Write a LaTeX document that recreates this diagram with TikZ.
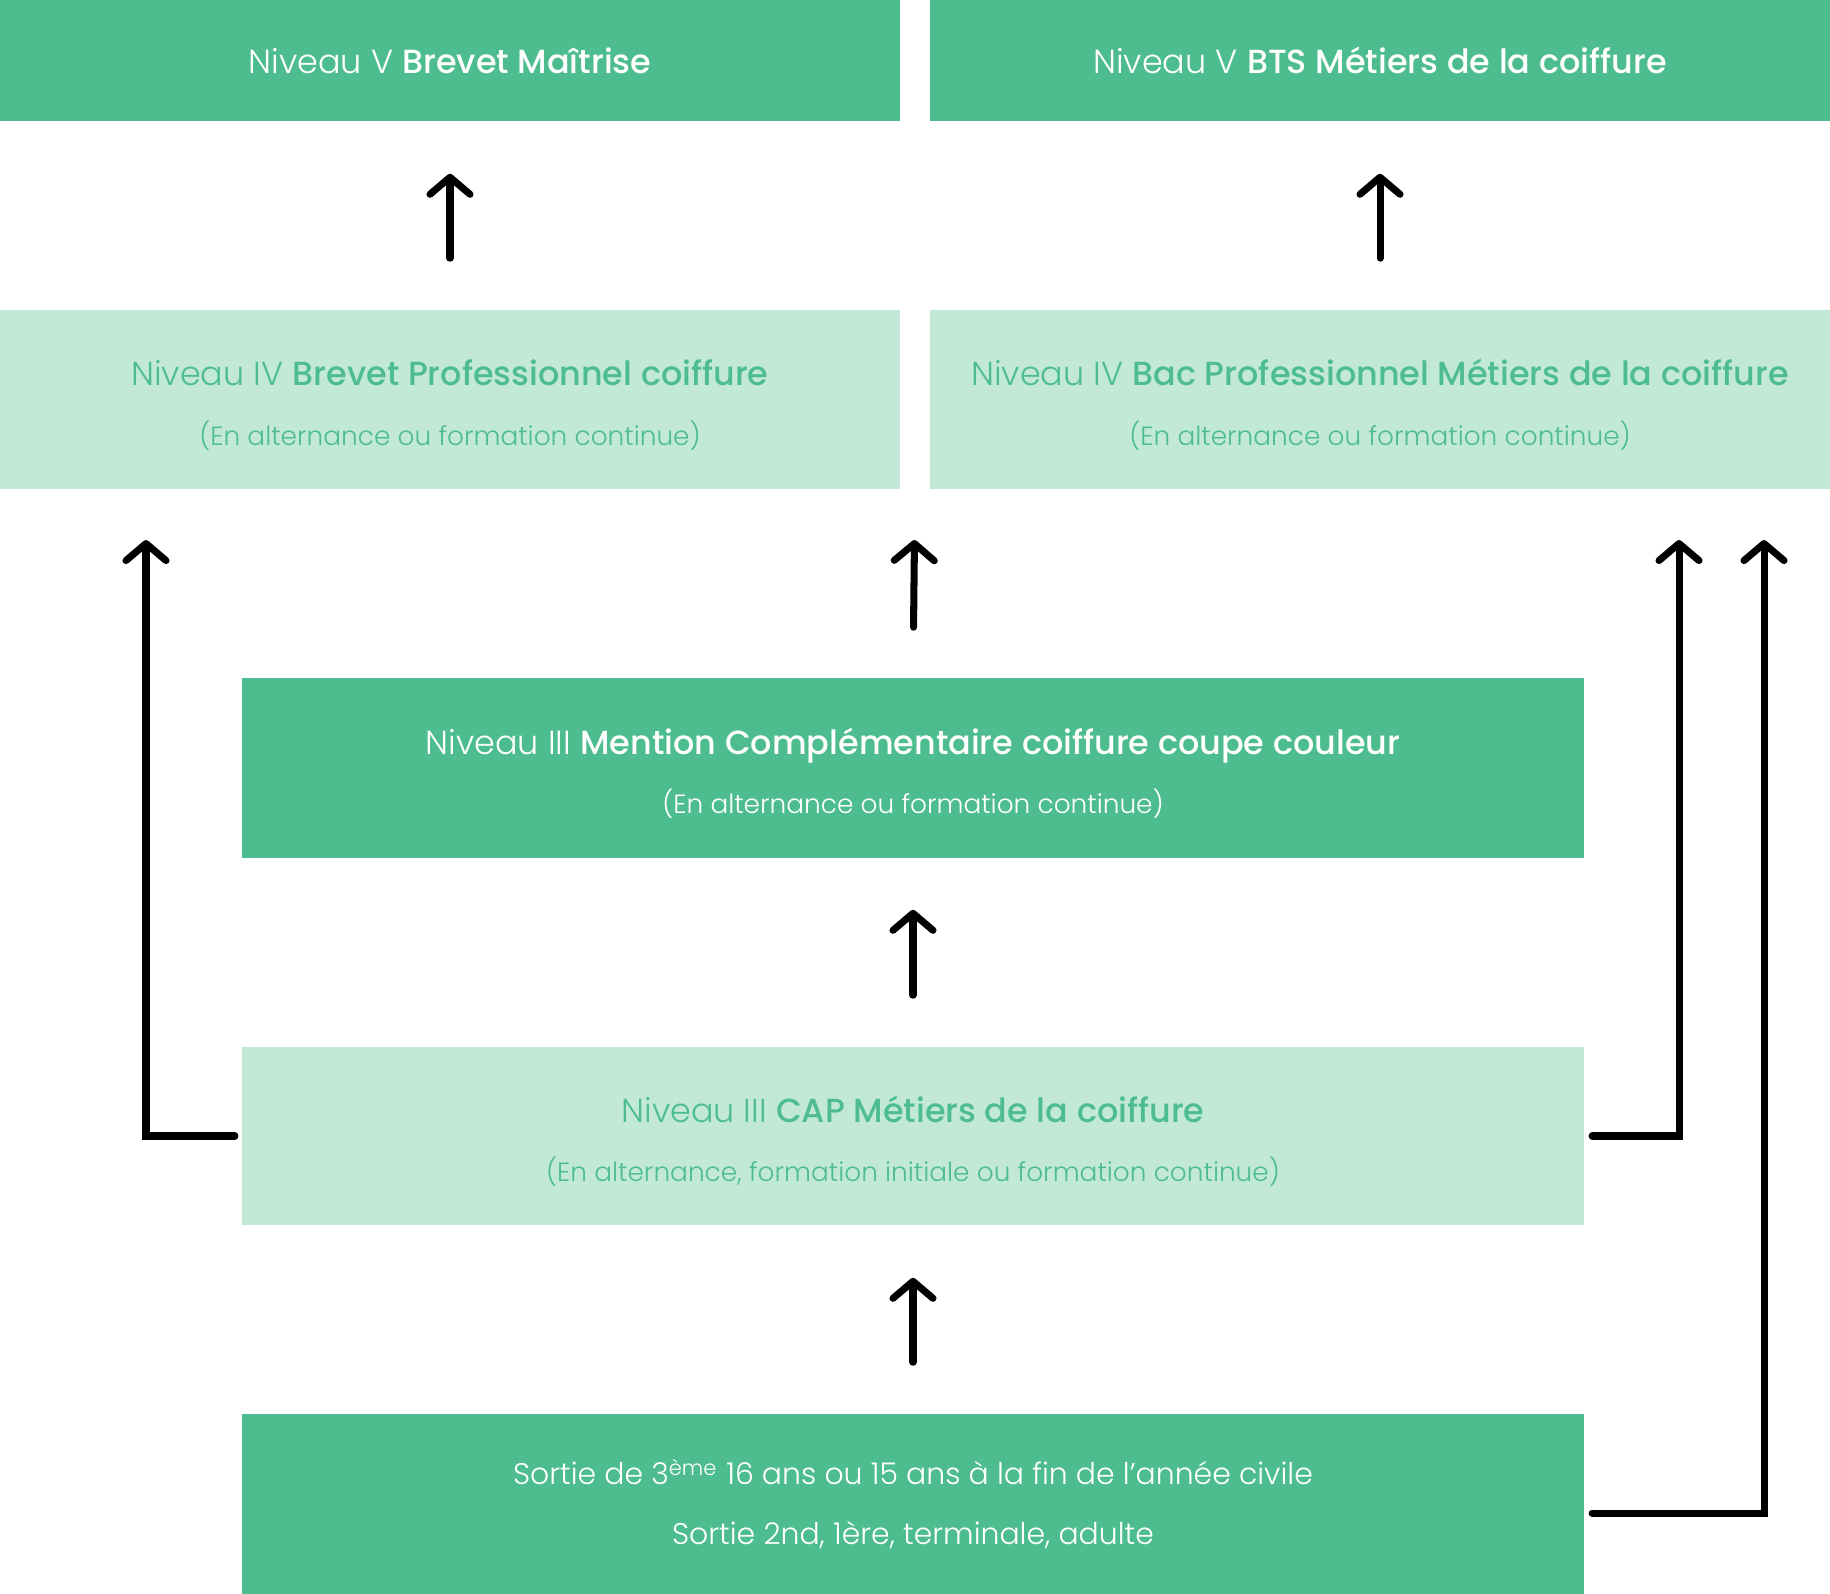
\documentclass[tikz,border=0pt]{standalone}
\usepackage{fontspec}
\setmainfont{Poppins}[UprightFont=* Light, BoldFont=* Medium]
\usetikzlibrary{arrows.meta}
\definecolor{vert}{HTML}{4DBD8F}
\definecolor{vertclair}{HTML}{C2E9D7}
\newcommand{\haut}{\rule{0pt}{10.5pt}}
\newcommand{\detail}[1]{{\fontsize{7.5}{17}\selectfont #1}}

\begin{document}
\begin{tikzpicture}[x=0.01cm,y=-0.01cm,
	fonce/.style={fill=vert,text=white,inner sep=0pt,align=center},
	clair/.style={fill=vertclair,text=vert,inner sep=0pt,align=center},
	titre/.style={font=\fontsize{9.5}{17}\selectfont},
	fleche/.style={line width=2pt,line cap=round,-{Straight Barb[length=0.17cm,width=0.40cm,round]}}]
\useasboundingbox (0,0) rectangle (1830,1594);

% niveau V
\node[fonce,titre,minimum width=9cm,minimum height=1.21cm] (bm) at (450,60.5) {Niveau V \textbf{Brevet Maîtrise}};
\node[fonce,titre,minimum width=9cm,minimum height=1.21cm] (bts) at (1380,60.5) {Niveau V \textbf{BTS Métiers de la coiffure}};

% niveau IV
\node[clair,titre,minimum width=9cm,minimum height=1.79cm] (bp) at (450,399.5) {\haut Niveau IV \textbf{Brevet Professionnel coiffure}\\\detail{(En alternance ou formation continue)}};
\node[clair,titre,minimum width=9cm,minimum height=1.79cm] (bac) at (1380,399.5) {\haut Niveau IV \textbf{Bac Professionnel Métiers de la coiffure}\\\detail{(En alternance ou formation continue)}};

% niveau III
\node[fonce,titre,minimum width=13.42cm,minimum height=1.80cm] (mc) at (913,768) {\haut Niveau III \textbf{Mention Complémentaire coiffure coupe couleur}\\\detail{(En alternance ou formation continue)}};
\node[clair,titre,minimum width=13.42cm,minimum height=1.78cm] (cap) at (913,1136) {\haut Niveau III \textbf{CAP Métiers de la coiffure}\\\detail{(En alternance, formation initiale ou formation continue)}};

% entree
\node[fonce,font=\fontsize{8.5}{17}\selectfont,minimum width=13.42cm,minimum height=1.80cm] (sortie) at (913,1504) {Sortie de 3\textsuperscript{ème} 16 ans ou 15 ans à la fin de l’année civile\\Sortie 2nd, 1ère, terminale, adulte};

\coordinate (trou) at (915,489);
\coordinate (g) at (146,489);
\coordinate (d1) at (1679,489);
\coordinate (d2) at (1764,489);

\draw[fleche,shorten <=0.51cm,shorten >=0.52cm] (bp) -- (bm);
\draw[fleche,shorten <=0.51cm,shorten >=0.52cm] (bac) -- (bts);
\draw[fleche,shorten <=0.50cm,shorten >=0.51cm] (mc.north) -- (trou);
\draw[fleche,shorten <=0.51cm,shorten >=0.51cm] (cap) -- (mc);
\draw[fleche,shorten <=0.51cm,shorten >=0.52cm] (sortie) -- (cap);

\draw[fleche,shorten <=0.06cm,shorten >=0.51cm] (cap.west) -| (g);
\draw[fleche,shorten <=0.07cm,shorten >=0.51cm] (cap.east) -| (d1);
\draw[fleche,shorten <=0.07cm,shorten >=0.51cm] ([yshift=-0.09cm]sortie.east) -| (d2);
\end{tikzpicture}
\end{document}
